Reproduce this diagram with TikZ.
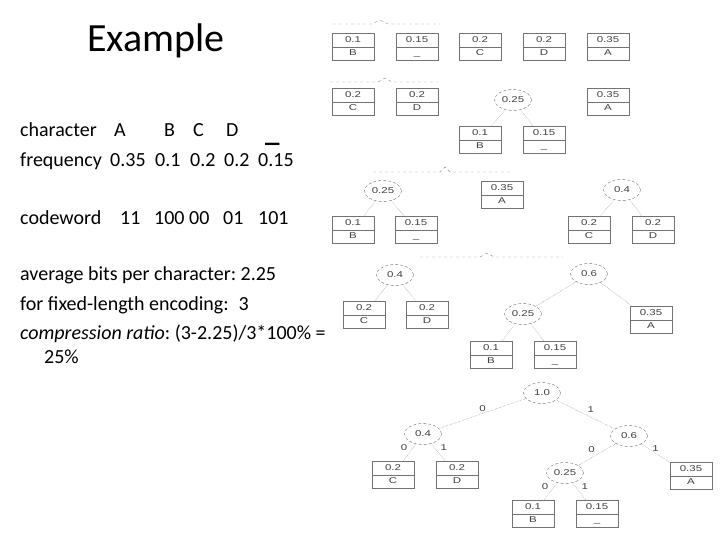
\documentclass[tikz,border=0pt]{standalone}
\usepackage{fontspec}
\setmainfont{Carlito}
\newfontfamily\treefont[FakeStretch=1.35]{Liberation Sans}
\usetikzlibrary{shapes.geometric, shapes.multipart}
\frenchspacing

\begin{document}
\begin{tikzpicture}[x=1pt,y=-1pt,leaf/.style={rectangle split,rectangle split parts=2,draw=black!55,thin,minimum width=42pt,inner ysep=1.5pt,font=\treefont\fontsize{8.5}{10}\selectfont,text=black!75},merged/.style={ellipse,draw=black!55,densely dashed,thin,minimum width=37pt,minimum height=21pt,inner sep=0pt,font=\treefont\fontsize{8.5}{10}\selectfont,text=black!75},branch/.style={draw=black!55,densely dotted,thin},bit/.style={midway,font=\treefont\fontsize{8.5}{10}\selectfont,text=black!75,inner sep=2pt},sep/.style={draw=black!45,dashed,thin},body/.style={anchor=base west,font=\fontsize{20}{24}\selectfont,inner sep=0pt}]
\useasboundingbox (0,0) rectangle (720,540);
% text column
\node[anchor=base,font=\fontsize{40}{48}\selectfont,inner sep=0pt] (title) at (156,52) {Example};
\node[body] (chr) at (20,137) {character};
\node[body] (chrA) at (114,137) {A};
\node[body] (chrB) at (164,137) {B};
\node[body] (chrC) at (193,137) {C};
\node[body] (chrD) at (226,137) {D};
\node[body,font=\fontsize{29}{30}\bfseries] (chrU) at (265,142) {\_};
\node[body] (freq) at (20,167) {frequency};
\node[body] (freqA) at (110,167) {0.35};
\node[body] (freqB) at (155,167) {0.1};
\node[body] (freqC) at (190,167) {0.2};
\node[body] (freqD) at (224,167) {0.2};
\node[body] (freqU) at (258,167) {0.15};
\node[body] (cw) at (20,225) {codeword};
\node[body] (cwA) at (120,225) {11};
\node[body] (cwB) at (154,225) {100};
\node[body] (cwC) at (189,225) {00};
\node[body] (cwD) at (223,225) {01};
\node[body] (cwU) at (258,225) {101};
\node[body] (avg) at (20,280) {average bits per character: 2.25};
\node[body] (fixed) at (20,310) {for fixed-length encoding:\hspace{10pt}3};
\node[body] (ratio) at (20,339) {\textit{compression ratio}: (3-2.25)/3*100\% =};
\node[body] (pct) at (44,363) {25\%};
% stage 1
\draw[sep] (333,24)--(372,24)--(380,20)--(388,24)--(440,24);
\node[leaf] (aB) at (353,47) {0.1\strut\nodepart{two}B\strut};
\node[leaf] (aU) at (417,47) {0.15\strut\nodepart{two}\_\strut};
\node[leaf] (aC) at (480,47) {0.2\strut\nodepart{two}C\strut};
\node[leaf] (aD) at (544,47) {0.2\strut\nodepart{two}D\strut};
\node[leaf] (aA) at (608,47) {0.35\strut\nodepart{two}A\strut};
% stage 2
\draw[sep] (330,82)--(378,82)--(385,78)--(392,82)--(438,82);
\node[leaf] (bC) at (353,102) {0.2\strut\nodepart{two}C\strut};
\node[leaf] (bD) at (417,102) {0.2\strut\nodepart{two}D\strut};
\node[merged] (bBU) at (513,100) {0.25};
\node[leaf] (bB) at (480,140) {0.1\strut\nodepart{two}B\strut};
\node[leaf] (bU) at (544,140) {0.15\strut\nodepart{two}\_\strut};
\node[leaf] (bA) at (608,102) {0.35\strut\nodepart{two}A\strut};
\draw[branch] (bBU)--(bB);
\draw[branch] (bBU)--(bU);
% stage 3
\draw[sep] (373,172)--(440,172)--(445,167)--(450,172)--(510,172);
\node[merged] (cBU) at (383,191) {0.25};
\node[leaf] (cB) at (353,230) {0.1\strut\nodepart{two}B\strut};
\node[leaf] (cU) at (416,230) {0.15\strut\nodepart{two}\_\strut};
\node[leaf] (cA) at (502,195) {0.35\strut\nodepart{two}A\strut};
\node[merged] (cCD) at (622,190) {0.4};
\node[leaf] (cC) at (589,230) {0.2\strut\nodepart{two}C\strut};
\node[leaf] (cD) at (653,230) {0.2\strut\nodepart{two}D\strut};
\draw[branch] (cBU)--(cB);
\draw[branch] (cBU)--(cU);
\draw[branch] (cCD)--(cC);
\draw[branch] (cCD)--(cD);
% stage 4
\draw[sep] (420,257)--(480,257)--(487,253)--(494,257)--(563,257);
\node[merged] (dCD) at (395,275) {0.4};
\node[leaf] (dC) at (364,315) {0.2\strut\nodepart{two}C\strut};
\node[leaf] (dD) at (427,315) {0.2\strut\nodepart{two}D\strut};
\node[merged] (dBUA) at (589,274) {0.6};
\node[merged] (dBU) at (523,314) {0.25};
\node[leaf] (dA) at (651,320) {0.35\strut\nodepart{two}A\strut};
\node[leaf] (dB) at (491,355) {0.1\strut\nodepart{two}B\strut};
\node[leaf] (dU) at (555,355) {0.15\strut\nodepart{two}\_\strut};
\draw[branch] (dCD)--(dC);
\draw[branch] (dCD)--(dD);
\draw[branch] (dBUA)--(dBU);
\draw[branch] (dBUA)--(dA);
\draw[branch] (dBU)--(dB);
\draw[branch] (dBU)--(dU);
% stage 5: final tree
\node[merged] (root) at (542,393) {1.0};
\node[merged] (eCD) at (423,434) {0.4};
\node[merged] (eBUA) at (629,436) {0.6};
\node[merged] (eBU) at (565,473) {0.25};
\node[leaf] (eC) at (393,475) {0.2\strut\nodepart{two}C\strut};
\node[leaf] (eD) at (457,475) {0.2\strut\nodepart{two}D\strut};
\node[leaf] (eA) at (691,476) {0.35\strut\nodepart{two}A\strut};
\node[leaf] (eB) at (533,514) {0.1\strut\nodepart{two}B\strut};
\node[leaf] (eU) at (597,514) {0.15\strut\nodepart{two}\_\strut};
\draw[branch] (root)--(eCD) node[bit,above] {0};
\draw[branch] (root)--(eBUA) node[bit,above right] {1};
\draw[branch] (eCD)--(eC) node[bit,above left] {0};
\draw[branch] (eCD)--(eD) node[bit,above right] {1};
\draw[branch] (eBUA)--(eBU) node[bit,above left] {0};
\draw[branch] (eBUA)--(eA) node[bit,above] {1};
\draw[branch] (eBU)--(eB) node[bit,above left] {0};
\draw[branch] (eBU)--(eU) node[bit,above right] {1};
\end{tikzpicture}
\end{document}
